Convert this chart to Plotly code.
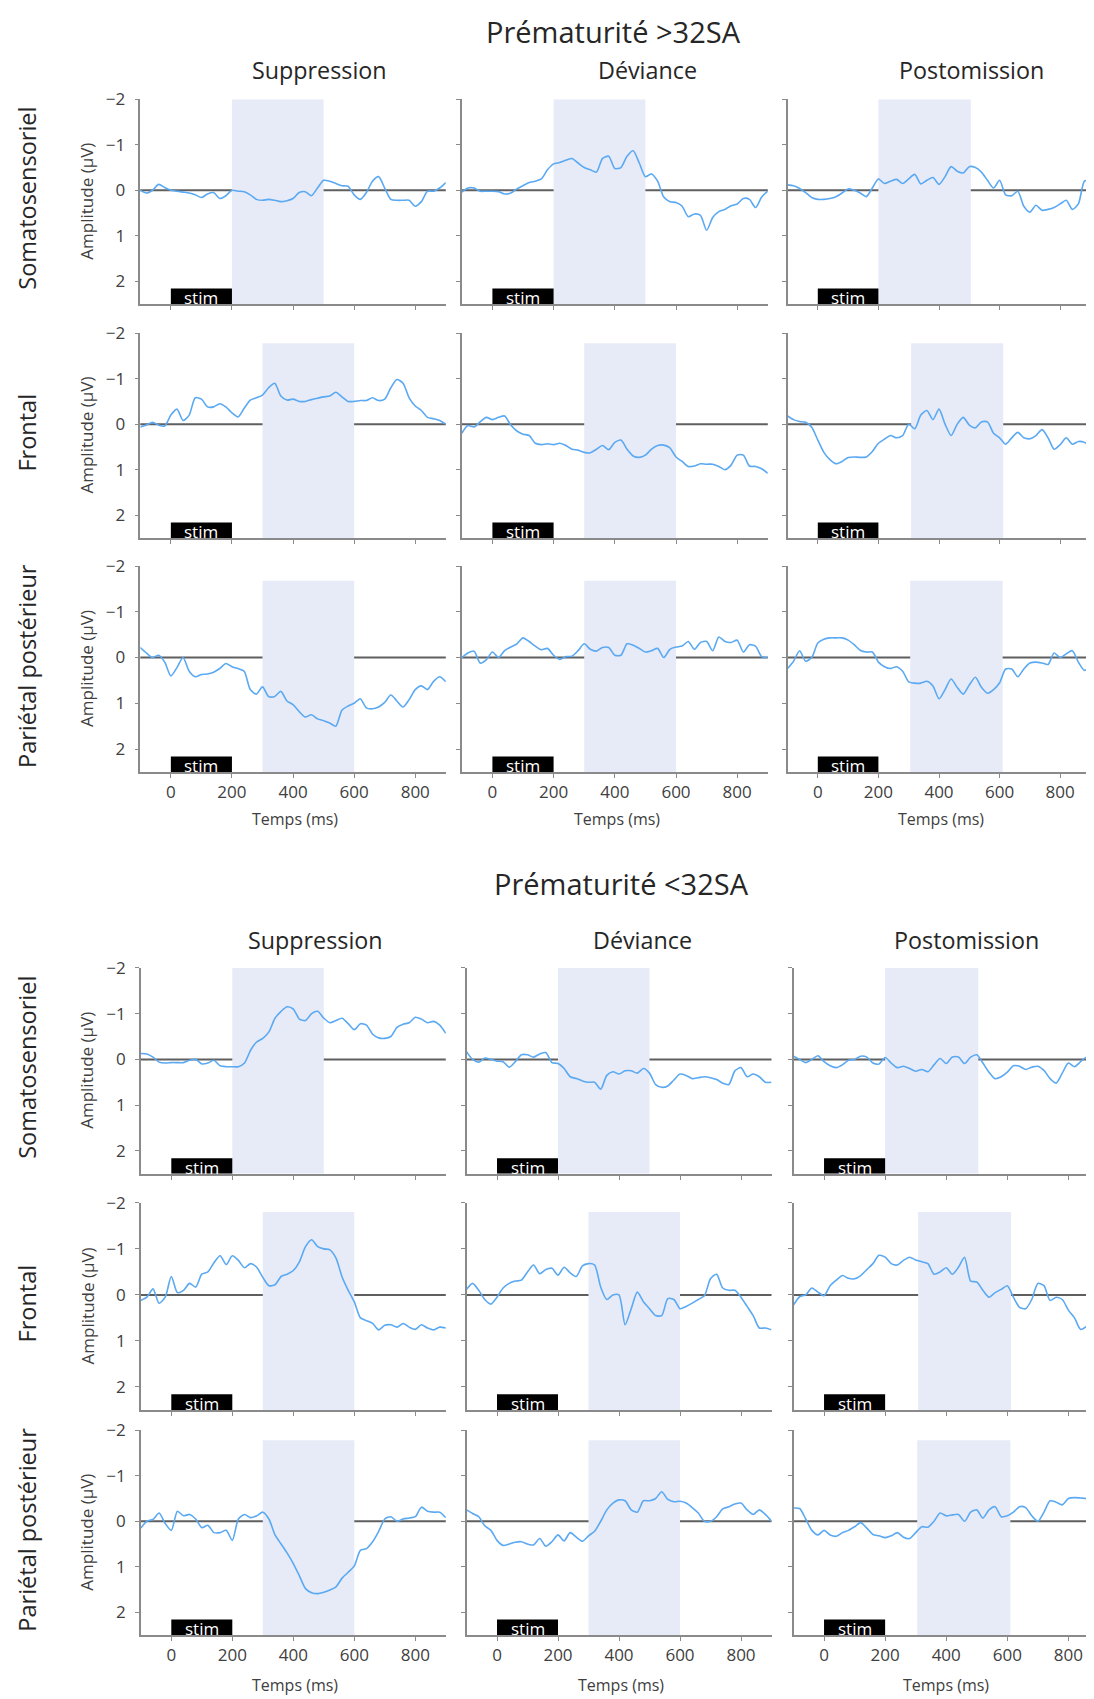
import plotly.graph_objects as go

W, H = 1094, 1699
PAGE_MARGIN = 8  # default body margin of the html page

# ---------------- data ----------------
time_ms = list(range(-100, 901, 20))
x_ticks = [0, 200, 400, 600, 800]
y_ticks = [-2, -1, 0, 1, 2]

group_titles = ["Prématurité >32SA", "Prématurité <32SA"]
conditions = ["Suppression", "Déviance", "Postomission"]
regions = ["Somatosensoriel", "Frontal", "Pariétal postérieur"]

# analysis windows (ms) per region / condition
windows_soma = [(200, 500), (200, 500), (200, 505)]
windows_front = [(300, 600), (300, 600), (308, 612)]
windows_pari = [(300, 600), (300, 600), (305, 610)]
stim_window = (0, 200)

# Group 1 (>32SA)
g1_soma_sup = [0.0, 0.06, 0.0, -0.13, -0.06, 0.0, 0.02, 0.04, 0.06, 0.1, 0.16, 0.08, 0.05, 0.18, 0.12, 0.0,
               0.02, 0.03, 0.1, 0.2, 0.22, 0.2, 0.22, 0.25, 0.23, 0.18, 0.05, 0.03, 0.12, -0.05, -0.22, -0.2,
               -0.15, -0.1, -0.09, 0.1, 0.2, 0.05, -0.2, -0.3, -0.05, 0.2, 0.22, 0.22, 0.22, 0.35, 0.25, 0.02,
               0.02, -0.05, -0.17]
g1_soma_dev = [0.04, -0.05, -0.05, 0.02, 0.02, 0.02, 0.03, 0.08, 0.06, -0.03, -0.1, -0.17, -0.2, -0.25, -0.45,
               -0.58, -0.61, -0.66, -0.7, -0.6, -0.5, -0.45, -0.4, -0.7, -0.75, -0.48, -0.5, -0.75, -0.87, -0.6,
               -0.3, -0.36, -0.2, 0.15, 0.25, 0.27, 0.35, 0.58, 0.52, 0.55, 0.88, 0.6, 0.47, 0.42, 0.34, 0.3,
               0.18, 0.2, 0.38, 0.15, 0.02]
g1_soma_post = [-0.12, -0.1, -0.04, 0.05, 0.16, 0.2, 0.2, 0.18, 0.14, 0.06, -0.03, 0.0, 0.06, 0.14, -0.05,
                -0.25, -0.15, -0.2, -0.24, -0.15, -0.25, -0.35, -0.14, -0.22, -0.28, -0.13, -0.3, -0.52, -0.42,
                -0.38, -0.52, -0.5, -0.4, -0.22, -0.05, -0.22, 0.1, 0.12, 0.02, 0.35, 0.48, 0.33, 0.44, 0.42,
                0.38, 0.3, 0.22, 0.42, 0.3, -0.2, -0.22]
g1_front_sup = [0.06, 0.02, -0.04, 0.02, 0.04, -0.2, -0.33, -0.08, -0.2, -0.58, -0.55, -0.38, -0.38, -0.45,
                -0.38, -0.25, -0.16, -0.35, -0.53, -0.58, -0.64, -0.8, -0.9, -0.62, -0.53, -0.55, -0.5, -0.5,
                -0.54, -0.57, -0.6, -0.62, -0.7, -0.6, -0.5, -0.5, -0.52, -0.52, -0.58, -0.52, -0.55, -0.8,
                -0.98, -0.9, -0.58, -0.4, -0.3, -0.15, -0.12, -0.08, 0.0]
g1_front_dev = [0.2, 0.03, 0.06, -0.05, -0.15, -0.1, -0.15, -0.18, 0.02, 0.15, 0.22, 0.25, 0.42, 0.45, 0.43,
                0.45, 0.42, 0.47, 0.55, 0.57, 0.62, 0.63, 0.55, 0.47, 0.56, 0.4, 0.35, 0.55, 0.7, 0.73, 0.68,
                0.55, 0.47, 0.46, 0.52, 0.72, 0.82, 0.93, 0.92, 0.87, 0.88, 0.88, 0.93, 1.0, 0.9, 0.68, 0.68,
                0.92, 0.93, 0.98, 1.08]
g1_front_post = [-0.18, -0.1, -0.06, -0.04, 0.07, 0.35, 0.62, 0.78, 0.87, 0.82, 0.73, 0.72, 0.73, 0.72, 0.6,
                 0.42, 0.33, 0.25, 0.3, 0.25, 0.0, 0.1, -0.2, -0.3, -0.1, -0.33, 0.0, 0.25, 0.0, -0.15, 0.02,
                 0.08, -0.05, -0.05, 0.2, 0.3, 0.44, 0.3, 0.18, 0.3, 0.32, 0.25, 0.12, 0.3, 0.55, 0.45, 0.3,
                 0.44, 0.38, 0.4, 0.5]
g1_pari_sup = [-0.22, -0.1, 0.0, -0.05, 0.1, 0.4, 0.22, 0.0, 0.3, 0.42, 0.37, 0.36, 0.32, 0.24, 0.13, 0.2,
               0.24, 0.3, 0.7, 0.8, 0.64, 0.85, 0.85, 0.74, 0.95, 1.03, 1.18, 1.3, 1.25, 1.34, 1.38, 1.43, 1.5,
               1.15, 1.06, 1.0, 0.9, 1.1, 1.12, 1.08, 0.98, 0.82, 0.95, 1.08, 0.92, 0.7, 0.62, 0.7, 0.52, 0.42,
               0.53]
g1_pari_dev = [0.0, -0.1, -0.14, 0.12, 0.05, -0.12, 0.0, -0.15, -0.23, -0.3, -0.43, -0.35, -0.25, -0.17, -0.2,
               -0.05, 0.04, -0.02, -0.03, -0.15, -0.3, -0.18, -0.14, -0.22, -0.22, -0.05, -0.05, -0.3, -0.27,
               -0.2, -0.12, -0.15, -0.2, 0.0, -0.18, -0.23, -0.25, -0.35, -0.18, -0.33, -0.35, -0.15, -0.45,
               -0.35, -0.33, -0.38, -0.12, -0.28, -0.25, -0.02, 0.0]
g1_pari_post = [0.24, 0.08, -0.15, 0.08, 0.0, -0.32, -0.4, -0.43, -0.43, -0.43, -0.38, -0.28, -0.16, -0.12,
                -0.12, 0.1, 0.2, 0.24, 0.2, 0.3, 0.53, 0.56, 0.56, 0.52, 0.62, 0.9, 0.7, 0.47, 0.65, 0.8, 0.6,
                0.43, 0.65, 0.78, 0.7, 0.55, 0.25, 0.25, 0.42, 0.25, 0.12, 0.1, 0.12, 0.15, -0.1, 0.0, -0.08,
                -0.15, 0.1, 0.28, 0.2]

# Group 2 (<32SA)
g2_soma_sup = [-0.13, -0.12, -0.05, 0.06, 0.08, 0.07, 0.07, 0.07, 0.02, 0.0, 0.1, 0.08, 0.02, 0.14, 0.16,
               0.16, 0.16, 0.08, -0.2, -0.38, -0.46, -0.6, -0.9, -1.05, -1.15, -1.1, -0.88, -0.85, -1.0, -1.05,
               -0.9, -0.8, -0.85, -0.9, -0.78, -0.65, -0.78, -0.75, -0.55, -0.47, -0.46, -0.5, -0.7, -0.77,
               -0.8, -0.92, -0.88, -0.8, -0.83, -0.75, -0.57]
g2_soma_dev = [-0.17, 0.0, 0.06, -0.03, 0.0, 0.04, 0.05, 0.17, 0.05, -0.1, -0.1, -0.05, -0.12, -0.15, 0.07,
               0.09, 0.2, 0.38, 0.42, 0.47, 0.5, 0.5, 0.65, 0.35, 0.27, 0.32, 0.25, 0.25, 0.3, 0.2, 0.3, 0.55,
               0.61, 0.58, 0.45, 0.32, 0.35, 0.42, 0.4, 0.38, 0.4, 0.44, 0.52, 0.55, 0.25, 0.18, 0.38, 0.32,
               0.38, 0.5, 0.5]
g2_soma_post = [-0.07, 0.0, 0.07, 0.0, -0.08, 0.05, 0.14, 0.18, 0.12, 0.02, 0.0, -0.07, -0.05, 0.08, 0.1,
                -0.04, 0.08, 0.18, 0.15, 0.2, 0.26, 0.22, 0.27, 0.12, -0.02, 0.09, -0.05, -0.05, 0.09, -0.05,
                -0.1, 0.08, 0.28, 0.42, 0.38, 0.28, 0.14, 0.15, 0.22, 0.17, 0.15, 0.24, 0.42, 0.52, 0.3, 0.08,
                0.16, 0.05, -0.05, 0.0, 0.0]
g2_front_sup = [0.12, 0.05, -0.13, 0.18, 0.05, -0.4, -0.05, -0.1, -0.25, -0.17, -0.45, -0.5, -0.7, -0.85,
                -0.66, -0.85, -0.75, -0.59, -0.68, -0.6, -0.38, -0.2, -0.22, -0.4, -0.45, -0.53, -0.72, -1.05,
                -1.2, -1.05, -1.0, -0.98, -0.8, -0.39, -0.1, 0.15, 0.5, 0.56, 0.62, 0.76, 0.66, 0.65, 0.7,
                0.62, 0.7, 0.75, 0.65, 0.72, 0.76, 0.7, 0.72]
g2_front_dev = [-0.12, -0.25, -0.1, 0.1, 0.2, 0.05, -0.15, -0.25, -0.3, -0.32, -0.5, -0.65, -0.46, -0.55,
                -0.58, -0.43, -0.6, -0.48, -0.4, -0.63, -0.68, -0.65, -0.17, 0.1, 0.0, 0.0, 0.65, 0.3, -0.06,
                0.15, 0.3, 0.45, 0.45, 0.08, 0.1, 0.3, 0.25, 0.18, 0.1, 0.02, -0.35, -0.45, -0.15, -0.1, -0.1,
                0.05, 0.25, 0.45, 0.72, 0.72, 0.76]
g2_front_post = [0.22, 0.04, 0.0, -0.15, -0.06, 0.02, -0.2, -0.32, -0.42, -0.36, -0.35, -0.42, -0.55, -0.68,
                 -0.86, -0.82, -0.68, -0.65, -0.75, -0.82, -0.76, -0.72, -0.68, -0.45, -0.5, -0.59, -0.45,
                 -0.6, -0.82, -0.3, -0.28, -0.1, 0.05, -0.05, -0.12, -0.2, 0.05, 0.27, 0.3, 0.1, -0.25, -0.2,
                 0.12, 0.05, 0.1, 0.33, 0.5, 0.75, 0.68, 0.55, 0.55]
g2_pari_sup = [0.15, 0.0, -0.04, -0.18, 0.05, 0.2, -0.22, -0.12, -0.15, -0.05, 0.14, 0.09, 0.25, 0.25, 0.2,
               0.42, -0.05, -0.15, -0.08, -0.12, -0.2, -0.05, 0.3, 0.5, 0.7, 0.93, 1.2, 1.48, 1.57, 1.59, 1.56,
               1.51, 1.44, 1.25, 1.12, 0.98, 0.64, 0.6, 0.45, 0.22, -0.05, -0.1, 0.0, -0.05, -0.07, -0.1,
               -0.31, -0.22, -0.2, -0.2, -0.08]
g2_pari_dev = [-0.25, -0.17, -0.1, 0.1, 0.2, 0.42, 0.53, 0.5, 0.46, 0.45, 0.5, 0.52, 0.38, 0.55, 0.45, 0.3,
               0.43, 0.25, 0.35, 0.44, 0.32, 0.22, 0.0, -0.25, -0.4, -0.47, -0.45, -0.25, -0.2, -0.45, -0.45,
               -0.5, -0.65, -0.48, -0.43, -0.44, -0.4, -0.3, -0.18, 0.0, 0.0, -0.1, -0.27, -0.32, -0.38, -0.4,
               -0.25, -0.15, -0.25, -0.15, 0.0]
g2_pari_post = [-0.29, -0.28, -0.05, 0.2, 0.3, 0.2, 0.3, 0.33, 0.25, 0.2, 0.12, 0.03, 0.15, 0.29, 0.32, 0.36,
                0.32, 0.25, 0.35, 0.38, 0.25, 0.12, 0.13, 0.0, -0.18, -0.12, -0.14, -0.15, 0.0, -0.2, -0.25,
                -0.07, -0.25, -0.32, -0.1, -0.12, -0.2, -0.32, -0.3, -0.12, 0.0, -0.2, -0.45, -0.42, -0.36,
                -0.5, -0.52, -0.51, -0.5, -0.47, -0.46]

series = [
    [[g1_soma_sup, g1_soma_dev, g1_soma_post],
     [g1_front_sup, g1_front_dev, g1_front_post],
     [g1_pari_sup, g1_pari_dev, g1_pari_post]],
    [[g2_soma_sup, g2_soma_dev, g2_soma_post],
     [g2_front_sup, g2_front_dev, g2_front_post],
     [g2_pari_sup, g2_pari_dev, g2_pari_post]],
]
windows = [windows_soma, windows_front, windows_pari]

# ---------------- layout geometry (window pixels) ----------------
col_px = [
    [(140.3, 445.8), (461.8, 767.8), (787.5, 1090.5)],
    [(140.8, 445.8), (466.5, 771.5), (793.5, 1102.0)],
]
x_right = [[900, 900, 900], [900, 900, 910]]
row_px = [
    [(87.9, 294.0), (323.4, 529.6), (557.9, 765.3)],
    [(962.6, 1170.0), (1199.3, 1407.8), (1428.3, 1634.5)],
]
shade_top = [[-2.0, -1.78, -1.68], [-2.0, -1.8, -1.78]]
title_y = [20, 878]
title_x = [613, 621]
cond_y = [58, 935]
cond_x = [[320, 647, 971], [315, 642, 966]]
temps_y = [813, 1685]

LINE = "#5aa9f2"
SHADE = "#e7ebf7"
AX = "#8a8a8a"
FONT = "Open Sans"


def fx(px):
    return (px - PAGE_MARGIN) / W


def fy(px):
    return 1 - (px - PAGE_MARGIN) / H


fig = go.Figure()
layout = dict(
    width=W, height=H, autosize=False,
    margin=dict(l=0, r=0, t=0, b=0),
    paper_bgcolor="white", plot_bgcolor="white",
    showlegend=False,
    font=dict(family=FONT, color="#404040"),
)
shapes = []
annotations = []

k = 0
for g in range(2):
    for r in range(3):
        for c in range(3):
            k += 1
            xa = "xaxis" if k == 1 else f"xaxis{k}"
            ya = "yaxis" if k == 1 else f"yaxis{k}"
            xr = "x" if k == 1 else f"x{k}"
            yr = "y" if k == 1 else f"y{k}"
            x0p, x1p = col_px[g][c]
            t_p, b_p = row_px[g][r]
            layout[xa] = dict(
                domain=[max(0, fx(x0p)), min(1, fx(x1p))], anchor=yr,
                range=[-100, x_right[g][c]], tickvals=x_ticks,
                showticklabels=(r == 2), ticks="outside", ticklen=4,
                tickcolor=AX, showline=True, linecolor=AX, linewidth=1.5,
                showgrid=False, zeroline=False,
                tickfont=dict(size=17, color="#404040"),
            )
            layout[ya] = dict(
                domain=[fy(b_p), fy(t_p)], anchor=xr,
                range=[2.5, -2], tickvals=y_ticks,
                showticklabels=(c == 0), ticks="outside", ticklen=4,
                tickcolor=AX, showline=True, linecolor=AX, linewidth=1.5,
                showgrid=False, zeroline=False, ticklabelstandoff=6,
                tickfont=dict(size=17, color="#404040"),
            )
            w0, w1 = windows[r][c]
            shapes.append(dict(type="rect", xref=xr, yref=yr, x0=w0, x1=w1,
                               y0=shade_top[g][r], y1=2.5, fillcolor=SHADE,
                               line=dict(width=0), layer="below"))
            shapes.append(dict(type="line", xref=f"{xr} domain", yref=yr, x0=0, x1=1,
                               y0=0, y1=0, line=dict(color="#5f5f5f", width=2),
                               layer="below"))
            shapes.append(dict(type="rect", xref=xr, yref=yr, x0=stim_window[0],
                               x1=stim_window[1], y0=2.16, y1=2.5, fillcolor="black",
                               line=dict(width=0), layer="above"))
            annotations.append(dict(xref=xr, yref=yr, x=(stim_window[0] + stim_window[1]) / 2,
                                    y=2.36, text="stim", showarrow=False,
                                    font=dict(size=17, color="white", family=FONT),
                                    xanchor="center", yanchor="middle"))
            fig.add_trace(go.Scatter(
                x=time_ms, y=series[g][r][c], xaxis=xr, yaxis=yr, mode="lines",
                line=dict(color=LINE, width=1.6, shape="spline", smoothing=0.7),
                hoverinfo="skip",
            ))
            if c == 0:
                annotations.append(dict(xref="paper", yref="paper", x=fx(87),
                                        y=fy((t_p + b_p) / 2), text="Amplitude (µV)",
                                        textangle=-90, showarrow=False,
                                        font=dict(size=17, color="#404040"),
                                        xanchor="center", yanchor="middle"))
                annotations.append(dict(xref="paper", yref="paper", x=fx(PAGE_MARGIN + 1),
                                        y=fy((t_p + b_p) / 2 - 3), text=regions[r],
                                        textangle=-90, showarrow=False,
                                        font=dict(size=23.5, color="#262626"),
                                        xanchor="left", yanchor="middle"))
            if r == 2:
                annotations.append(dict(xref="paper", yref="paper",
                                        x=fx((x0p + min(x1p, 1094)) / 2 + 2), y=fy(temps_y[g]),
                                        text="Temps (ms)", showarrow=False,
                                        font=dict(size=16, color="#404040"),
                                        xanchor="center", yanchor="middle"))
    annotations.append(dict(xref="paper", yref="paper", x=fx(title_x[g]), y=fy(title_y[g]),
                            text=group_titles[g], showarrow=False,
                            font=dict(size=29, color="#262626"),
                            xanchor="center", yanchor="middle"))
    for c in range(3):
        annotations.append(dict(xref="paper", yref="paper", x=fx(cond_x[g][c]), y=fy(cond_y[g]),
                                text=conditions[c], showarrow=False,
                                font=dict(size=23.3, color="#262626"),
                                xanchor="center", yanchor="middle"))

layout["shapes"] = shapes
layout["annotations"] = annotations
fig.update_layout(**layout)
fig.write_html("out.html")
